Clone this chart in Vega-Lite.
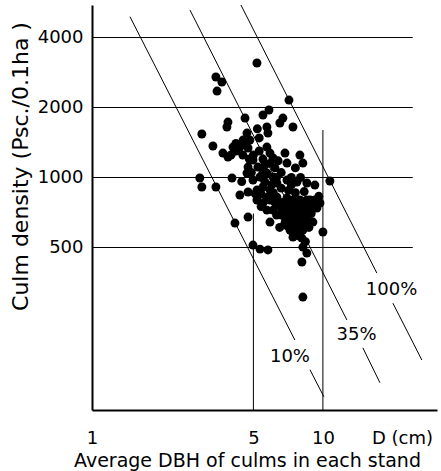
{
  "$schema": "https://vega.github.io/schema/vega-lite/v6.json",
  "width": 345,
  "height": 405,
  "autosize": {"type": "none"},
  "padding": {"left": 92, "top": 5, "right": 4, "bottom": 61},
  "background": "white",
  "config": {"view": {"stroke": null}},
  "datasets": {
    "points": [
      {"D": 5.18, "N": 3107}, {"D": 3.44, "N": 2705}, {"D": 3.65, "N": 2575}, {"D": 3.48, "N": 2354},
      {"D": 7.13, "N": 2153}, {"D": 5.84, "N": 1951}, {"D": 5.50, "N": 1857}, {"D": 4.60, "N": 1802},
      {"D": 3.88, "N": 1732}, {"D": 3.84, "N": 1649}, {"D": 6.71, "N": 1802}, {"D": 7.42, "N": 1649},
      {"D": 6.51, "N": 1715}, {"D": 5.72, "N": 1649}, {"D": 5.78, "N": 1553}, {"D": 2.99, "N": 1538},
      {"D": 4.69, "N": 1553}, {"D": 4.83, "N": 1449}, {"D": 4.51, "N": 1449}, {"D": 3.34, "N": 1366},
      {"D": 4.08, "N": 1352}, {"D": 4.37, "N": 1352}, {"D": 4.74, "N": 1339}, {"D": 3.69, "N": 1274},
      {"D": 3.88, "N": 1225}, {"D": 5.72, "N": 1352}, {"D": 5.90, "N": 1274}, {"D": 6.08, "N": 1213},
      {"D": 6.85, "N": 1274}, {"D": 6.99, "N": 1154}, {"D": 7.95, "N": 1249}, {"D": 8.19, "N": 1154},
      {"D": 4.98, "N": 1189}, {"D": 5.23, "N": 1109}, {"D": 4.74, "N": 1109}, {"D": 2.93, "N": 995},
      {"D": 2.99, "N": 910}, {"D": 3.44, "N": 910}, {"D": 4.04, "N": 995}, {"D": 4.69, "N": 1045},
      {"D": 4.98, "N": 975}, {"D": 5.34, "N": 1005}, {"D": 5.72, "N": 1045}, {"D": 6.08, "N": 1005},
      {"D": 6.32, "N": 947}, {"D": 6.99, "N": 975}, {"D": 7.72, "N": 956}, {"D": 8.52, "N": 947},
      {"D": 9.23, "N": 928}, {"D": 10.72, "N": 966}, {"D": 4.37, "N": 841}, {"D": 4.74, "N": 866},
      {"D": 5.18, "N": 883}, {"D": 5.50, "N": 910}, {"D": 5.90, "N": 883}, {"D": 5.18, "N": 800},
      {"D": 5.50, "N": 777}, {"D": 5.90, "N": 800}, {"D": 6.32, "N": 824}, {"D": 6.99, "N": 816},
      {"D": 7.42, "N": 800}, {"D": 7.95, "N": 800}, {"D": 8.52, "N": 800}, {"D": 9.23, "N": 800},
      {"D": 9.71, "N": 777}, {"D": 5.72, "N": 724}, {"D": 6.08, "N": 724}, {"D": 6.51, "N": 747},
      {"D": 6.99, "N": 724}, {"D": 7.42, "N": 703}, {"D": 7.95, "N": 724}, {"D": 8.78, "N": 747},
      {"D": 9.42, "N": 739}, {"D": 5.90, "N": 643}, {"D": 4.74, "N": 676}, {"D": 4.16, "N": 637},
      {"D": 6.85, "N": 637}, {"D": 7.42, "N": 637}, {"D": 7.95, "N": 656}, {"D": 8.52, "N": 656},
      {"D": 9.05, "N": 643}, {"D": 7.20, "N": 594}, {"D": 7.72, "N": 577}, {"D": 8.19, "N": 594},
      {"D": 7.42, "N": 554}, {"D": 8.11, "N": 549}, {"D": 10.0, "N": 583}, {"D": 4.98, "N": 512},
      {"D": 5.34, "N": 492}, {"D": 5.78, "N": 488}, {"D": 8.19, "N": 502}, {"D": 8.52, "N": 473},
      {"D": 8.11, "N": 433}, {"D": 8.19, "N": 306},
      {"D": 5.0, "N": 1250}, {"D": 5.5, "N": 1200}, {"D": 5.3, "N": 1300}, {"D": 6.2, "N": 1100},
      {"D": 6.6, "N": 1050}, {"D": 7.3, "N": 1000}, {"D": 7.6, "N": 1100}, {"D": 8.0, "N": 1000},
      {"D": 5.6, "N": 960}, {"D": 6.0, "N": 930}, {"D": 6.6, "N": 900}, {"D": 7.1, "N": 880},
      {"D": 7.6, "N": 860}, {"D": 8.3, "N": 870}, {"D": 6.7, "N": 780}, {"D": 7.2, "N": 760},
      {"D": 7.7, "N": 760}, {"D": 8.2, "N": 770}, {"D": 8.8, "N": 800}, {"D": 9.4, "N": 780},
      {"D": 6.6, "N": 690}, {"D": 7.1, "N": 680}, {"D": 7.7, "N": 690}, {"D": 8.3, "N": 700},
      {"D": 8.9, "N": 700}, {"D": 7.0, "N": 620}, {"D": 7.6, "N": 610}, {"D": 8.2, "N": 620},
      {"D": 8.7, "N": 610}, {"D": 7.9, "N": 560}, {"D": 8.4, "N": 530}, {"D": 4.5, "N": 1250},
      {"D": 4.2, "N": 1300}, {"D": 5.3, "N": 1480}, {"D": 5.2, "N": 1620}, {"D": 4.8, "N": 1200},
      {"D": 5.9, "N": 1150}, {"D": 6.3, "N": 1000}, {"D": 4.45, "N": 960}, {"D": 5.1, "N": 850},
      {"D": 5.4, "N": 750}, {"D": 6.2, "N": 780}, {"D": 6.3, "N": 690}, {"D": 4.9, "N": 1050},
      {"D": 5.5, "N": 1050}, {"D": 7.3, "N": 930},
      {"D": 6.8, "N": 740}, {"D": 7.3, "N": 720}, {"D": 7.8, "N": 740}, {"D": 8.6, "N": 730},
      {"D": 9.0, "N": 760}, {"D": 6.9, "N": 660}, {"D": 7.5, "N": 660}, {"D": 8.1, "N": 680},
      {"D": 7.3, "N": 590}, {"D": 7.9, "N": 600}, {"D": 5.4, "N": 850}, {"D": 5.7, "N": 820},
      {"D": 6.1, "N": 860}, {"D": 4.6, "N": 1390}, {"D": 4.2, "N": 1400}, {"D": 4.0, "N": 1250},
      {"D": 5.6, "N": 1130}, {"D": 6.4, "N": 1180}, {"D": 9.6, "N": 830}, {"D": 6.5, "N": 610}
    ],
    "lines": [
      {"seg": "10a", "D": 1.46, "N": 4917}, {"seg": "10a", "D": 7.56, "N": 200},
      {"seg": "10b", "D": 8.79, "N": 149}, {"seg": "10b", "D": 10.1, "N": 114},
      {"seg": "35a", "D": 2.656, "N": 5252}, {"seg": "35a", "D": 12.7, "N": 244},
      {"seg": "35b", "D": 14.9, "N": 185}, {"seg": "35b", "D": 17.66, "N": 131},
      {"seg": "100a", "D": 4.416, "N": 5520}, {"seg": "100a", "D": 17.13, "N": 388},
      {"seg": "100b", "D": 20.1, "N": 288}, {"seg": "100b", "D": 26.83, "N": 164}
    ],
    "hrules": [
      {"N": 500, "D": 1, "D2": 24.5}, {"N": 1000, "D": 1, "D2": 24.5},
      {"N": 2000, "D": 1, "D2": 24.5}, {"N": 4000, "D": 1, "D2": 24.5}
    ],
    "vrules": [
      {"D": 5, "N": 100, "N2": 700}, {"D": 10, "N": 100, "N2": 1600}
    ],
    "labels": [
      {"D": 19.84, "N": 328, "text": "100%"},
      {"D": 13.99, "N": 210, "text": "35%"},
      {"D": 7.2, "N": 169, "text": "10%"}
    ]
  },
  "encoding": {
    "x": {
      "field": "D", "type": "quantitative",
      "scale": {"type": "log", "domain": [1, 31.2], "nice": false},
      "axis": {
        "values": [1, 5, 10, 22],
        "labelExpr": "datum.value > 20 ? 'D (cm)' : format(datum.value, 'd')",
        "ticks": false, "grid": false,
        "domainColor": "black", "domainWidth": 2,
        "labelFont": "DejaVu Sans", "labelFontSize": 18, "labelColor": "black",
        "labelPadding": 33, "labelBaseline": "alphabetic", "labelFlush": false, "labelOverlap": false,
        "title": "Average DBH  of culms in each stand",
        "titleFont": "DejaVu Sans", "titleFontSize": 19, "titleFontWeight": "normal", "titleColor": "black",
        "titleX": 155, "titleY": 56, "titleBaseline": "alphabetic", "titleAlign": "center"
      }
    },
    "y": {
      "field": "N", "type": "quantitative",
      "scale": {"type": "log", "domain": [100, 5520], "nice": false},
      "axis": {
        "values": [500, 1000, 2000, 4000],
        "format": "d",
        "ticks": false, "grid": false,
        "domainColor": "black", "domainWidth": 2,
        "labelFont": "DejaVu Sans", "labelFontSize": 18, "labelColor": "black",
        "labelPadding": 9,
        "title": "Culm density (Psc./0.1ha )",
        "titleFont": "DejaVu Sans", "titleFontSize": 22, "titleFontWeight": "normal", "titleColor": "black",
        "titleX": -72, "titleY": 161, "titleAngle": -90, "titleBaseline": "middle", "titleAlign": "center"
      }
    }
  },
  "layer": [
    {
      "data": {"name": "hrules"},
      "mark": {"type": "rule", "color": "black", "strokeWidth": 1},
      "encoding": {"x2": {"field": "D2"}}
    },
    {
      "data": {"name": "vrules"},
      "mark": {"type": "rule", "color": "black", "strokeWidth": 1},
      "encoding": {"y2": {"field": "N2"}}
    },
    {
      "data": {"name": "lines"},
      "mark": {"type": "line", "color": "black", "strokeWidth": 1},
      "encoding": {"detail": {"field": "seg", "type": "nominal"}}
    },
    {
      "data": {"name": "points"},
      "mark": {"type": "circle", "color": "black", "opacity": 1, "size": 80}
    },
    {
      "data": {"name": "labels"},
      "mark": {"type": "text", "font": "DejaVu Sans", "fontSize": 18, "color": "black", "align": "center", "baseline": "middle"},
      "encoding": {"text": {"field": "text", "type": "nominal"}}
    }
  ]
}
